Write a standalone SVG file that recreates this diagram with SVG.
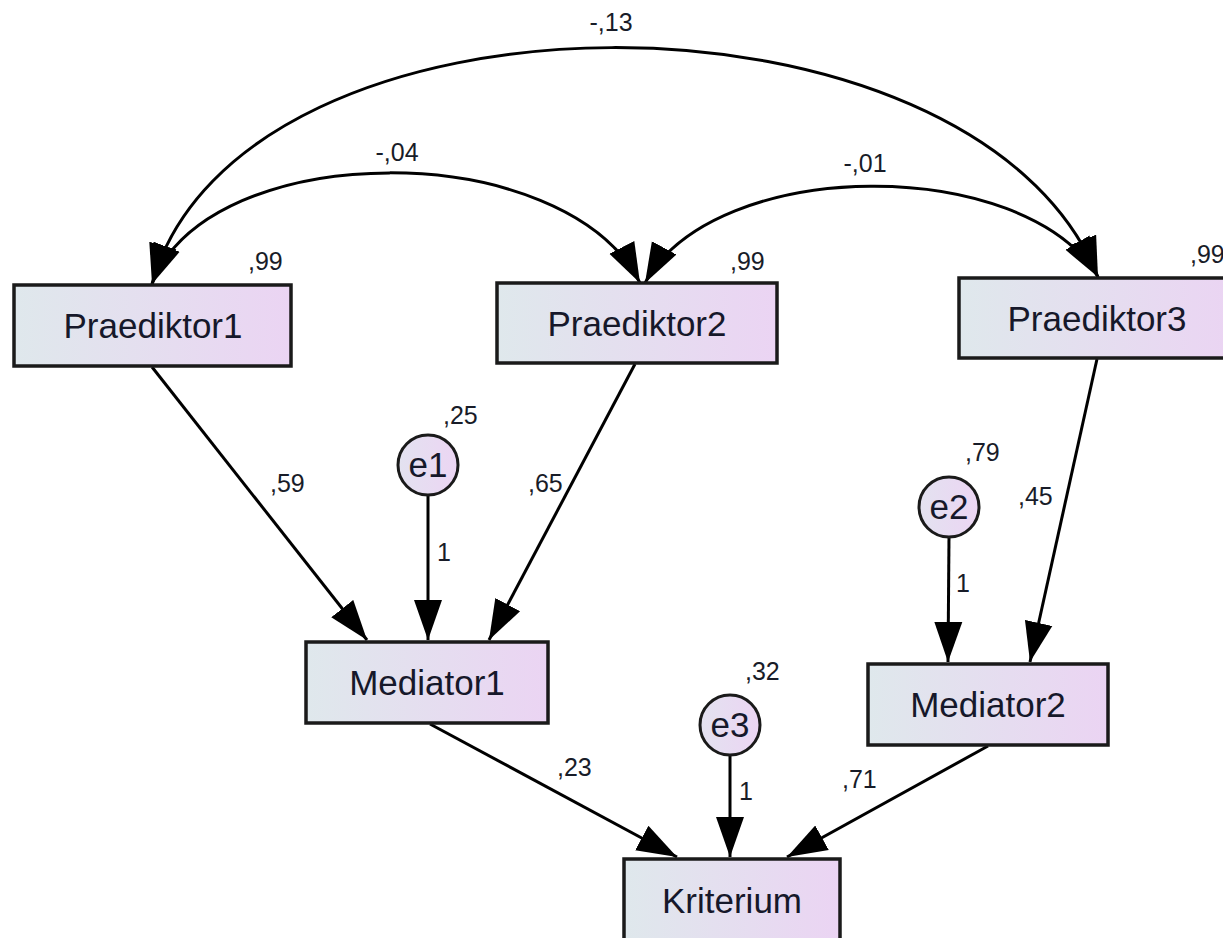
<svg xmlns="http://www.w3.org/2000/svg" width="1223" height="938" viewBox="0 0 1223 938">
  <defs>
    <linearGradient id="boxFill" x1="0" y1="0" x2="1" y2="0">
      <stop offset="0" stop-color="#dfe8ec"/>
      <stop offset="1" stop-color="#ebd4f3"/>
    </linearGradient>
    <linearGradient id="errFill" x1="0" y1="0" x2="1" y2="0">
      <stop offset="0" stop-color="#e3e2f0"/>
      <stop offset="1" stop-color="#ecd5f3"/>
    </linearGradient>
    <marker id="head" markerUnits="userSpaceOnUse" markerWidth="42" markerHeight="30" refX="40" refY="15" orient="auto-start-reverse" viewBox="0 0 42 30">
      <path d="M0,1 L40,15 L0,29 Z" fill="#000"/>
    </marker>
    <style>
      .box { fill: url(#boxFill); stroke: #1a1a1a; stroke-width: 3.5; }
      .err { fill: url(#errFill); stroke: #1a1a1a; stroke-width: 3; }
      .name { font-family: "Liberation Sans", Arial, sans-serif; font-size: 35px; fill: #16182a; text-anchor: middle; }
      .lbl { font-family: "Liberation Sans", Arial, sans-serif; font-size: 25px; fill: #181c28; }
      .edge { fill: none; stroke: #000; stroke-width: 3; marker-end: url(#head); }
      .cov { fill: none; stroke: #000; stroke-width: 3; marker-start: url(#head); marker-end: url(#head); }
    </style>
  </defs>
  <rect width="1223" height="938" fill="#fff"/>

  <!-- paths and covariances -->
  <g id="connectors">
    <path class="cov" d="M152,284 C240,-30 975,-30 1098,277"/>
    <path class="cov" d="M152,284 C210,136 565,136 640,283"/>
    <path class="cov" d="M645,283 C715,155 1025,155 1098,277"/>

    <line class="edge" x1="152" y1="367" x2="367" y2="640"/>
    <line class="edge" x1="635" y1="364" x2="489" y2="640"/>
    <line class="edge" x1="428" y1="495" x2="428" y2="640"/>
    <line class="edge" x1="1097" y1="359" x2="1030" y2="662"/>
    <line class="edge" x1="949" y1="537" x2="948" y2="662"/>
    <line class="edge" x1="430" y1="724" x2="677" y2="857"/>
    <line class="edge" x1="988" y1="746" x2="787" y2="857"/>
    <line class="edge" x1="730" y1="755" x2="730" y2="857"/>
  </g>

  <!-- path coefficients and variances -->
  <g id="labels" class="lbl">
    <text x="611" y="31" text-anchor="middle">-,13</text>
    <text x="397" y="161" text-anchor="middle">-,04</text>
    <text x="865" y="172" text-anchor="middle">-,01</text>
    <text x="248" y="270">,99</text>
    <text x="730" y="270">,99</text>
    <text x="1190" y="263">,99</text>
    <text x="443" y="424">,25</text>
    <text x="270" y="492">,59</text>
    <text x="528" y="492">,65</text>
    <text x="437" y="561">1</text>
    <text x="965" y="461">,79</text>
    <text x="1018" y="505">,45</text>
    <text x="956" y="592">1</text>
    <text x="745" y="680">,32</text>
    <text x="739" y="800">1</text>
    <text x="557" y="776">,23</text>
    <text x="842" y="788">,71</text>
  </g>

  <g id="praediktor1">
    <rect class="box" x="14" y="285" width="277" height="81"/>
    <text class="name" x="153" y="338">Praediktor1</text>
  </g>
  <g id="praediktor2">
    <rect class="box" x="497" y="283" width="280" height="80"/>
    <text class="name" x="637" y="336">Praediktor2</text>
  </g>
  <g id="praediktor3">
    <rect class="box" x="959" y="278" width="277" height="80"/>
    <text class="name" x="1097" y="331">Praediktor3</text>
  </g>
  <g id="mediator1">
    <rect class="box" x="306" y="642" width="242" height="81"/>
    <text class="name" x="427" y="695">Mediator1</text>
  </g>
  <g id="mediator2">
    <rect class="box" x="868" y="664" width="240" height="81"/>
    <text class="name" x="988" y="717">Mediator2</text>
  </g>
  <g id="kriterium">
    <rect class="box" x="624" y="859" width="216" height="95"/>
    <text class="name" x="732" y="913">Kriterium</text>
  </g>
  <g id="e1">
    <circle class="err" cx="428" cy="465" r="30"/>
    <text class="name" x="428" y="477">e1</text>
  </g>
  <g id="e2">
    <circle class="err" cx="949" cy="507" r="30"/>
    <text class="name" x="949" y="519">e2</text>
  </g>
  <g id="e3">
    <circle class="err" cx="730" cy="725" r="30"/>
    <text class="name" x="730" y="737">e3</text>
  </g>
</svg>
